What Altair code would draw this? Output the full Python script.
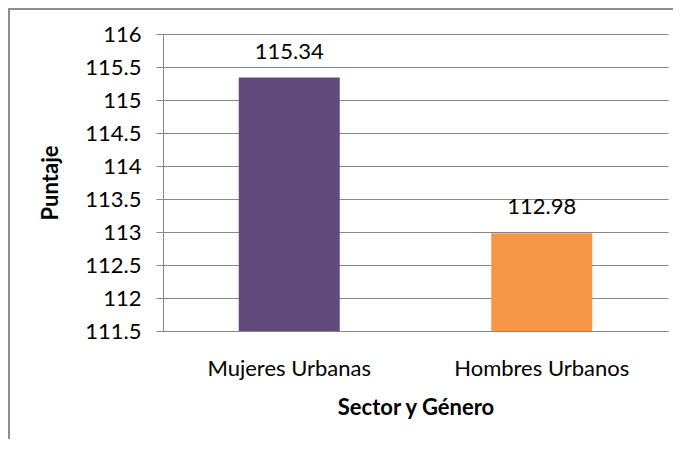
import altair as alt
import pandas as pd

categories = ["Mujeres Urbanas", "Hombres Urbanos"]
values = [115.34, 112.98]
colors = ["#604A7B", "#F79646"]
labels = ["115.34", "112.98"]
y_ticks = [111.5, 112, 112.5, 113, 113.5, 114, 114.5, 115, 115.5, 116]

df = pd.DataFrame({"cat": categories, "val": values, "lab": labels, "base": [111.5] * 2})

FONT = "Lato"
FS = 22

x = alt.X("cat:N", sort=categories, title="Sector y Género",
          scale=alt.Scale(paddingInner=0.6, paddingOuter=0.3),
          axis=alt.Axis(labelAngle=0, labelFontSize=FS, labelFont=FONT, labelColor="black",
                        labelPadding=27, ticks=False, grid=False, domainColor="#868686",
                        titleFont=FONT, titleFontSize=FS, titleFontWeight="bold",
                        titleColor="black", titlePadding=18))
y = alt.Y("val:Q", title="Puntaje",
          scale=alt.Scale(domain=[111.5, 116], zero=False, nice=False),
          axis=alt.Axis(values=y_ticks, tickCount=10, format="~g", labelOverlap=False, labelFlush=False,
                        labelFontSize=FS, labelFont=FONT, labelColor="black",
                        tickSize=7, tickColor="#868686", labelPadding=15,
                        domainColor="#868686", gridColor="#868686",
                        titleFont=FONT, titleFontSize=FS, titleFontWeight="bold",
                        titleColor="black", titlePadding=22))

bars = alt.Chart(df).mark_bar().encode(
    x=x, y=y, y2="base:Q",
    color=alt.Color("cat:N", scale=alt.Scale(domain=categories, range=colors), legend=None),
)
text = alt.Chart(df).mark_text(baseline="alphabetic", dy=-19, fontSize=FS, font=FONT, color="black").encode(
    x=x, y=y, text="lab:N"
)
border = alt.Chart(df).mark_rect(fill="transparent", stroke="#868686", strokeWidth=1.5, clip=False).encode(
    x=alt.value(-154), x2=alt.value(560), y=alt.value(-25), y2=alt.value(460)
)

chart = (bars + text + border).properties(
    width=505, height=297,
    background="white",
    autosize=alt.AutoSizeParams(type="none"),
    padding={"left": 155, "top": 26, "right": 5, "bottom": 108},
).configure_view(stroke=None)

chart.save("out.html", embed_options={"renderer": "svg", "actions": False})
